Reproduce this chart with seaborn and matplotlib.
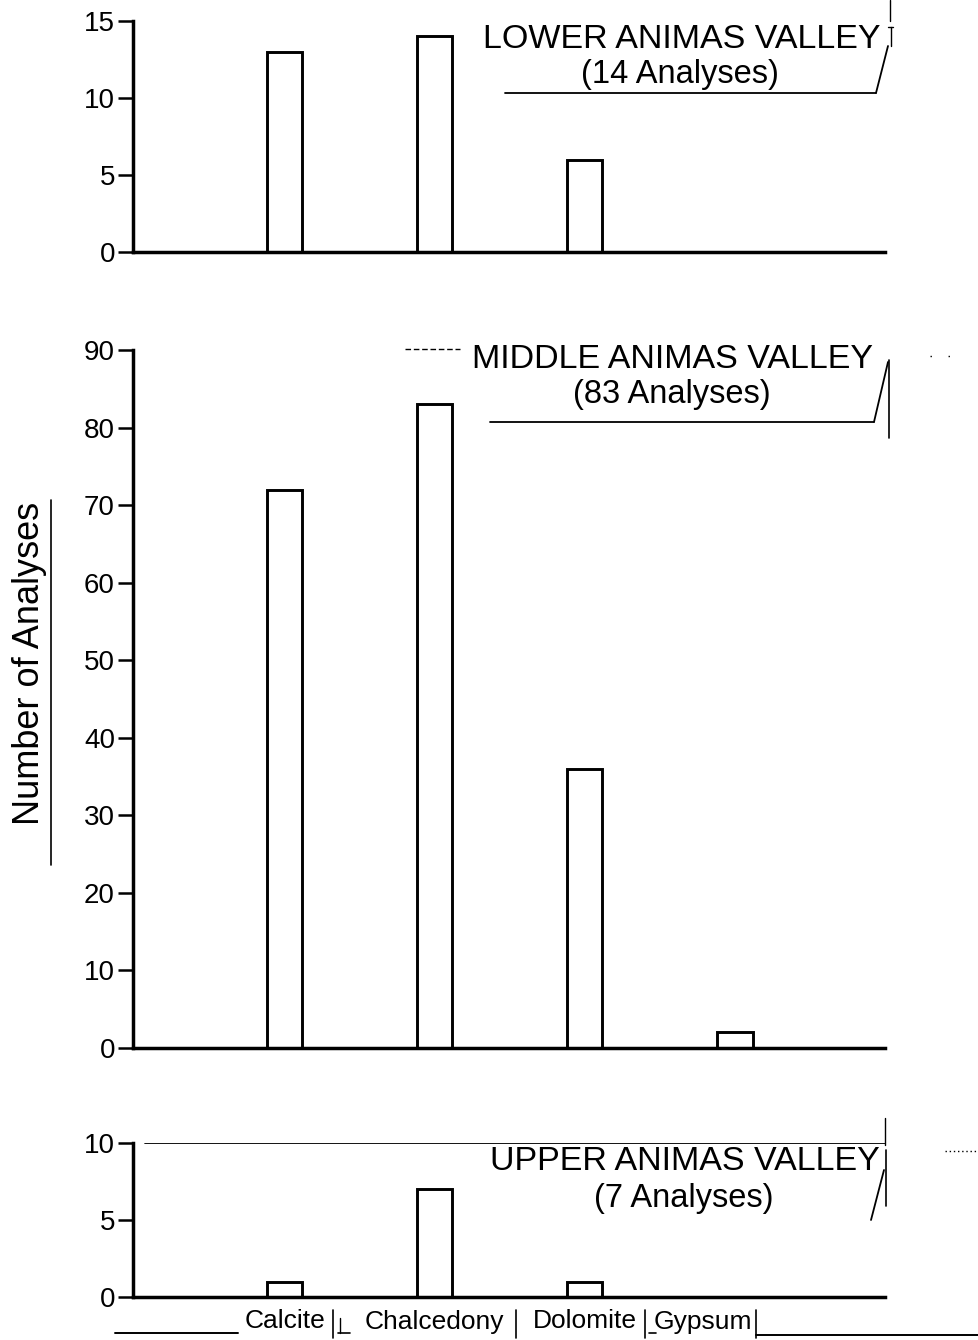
import matplotlib
matplotlib.use("Agg")
import matplotlib.pyplot as plt
import matplotlib.transforms as mtransforms
from matplotlib.lines import Line2D
import numpy as np
import pandas as pd
import seaborn as sns

# ---- data -------------------------------------------------------------
minerals = ["Calcite", "Chalcedony", "Dolomite", "Gypsum"]
lower_counts = [13, 14, 6, 0]
middle_counts = [72, 83, 36, 2]
upper_counts = [1, 7, 1, 0]

panel_names = ["LOWER ANIMAS VALLEY", "MIDDLE ANIMAS VALLEY", "UPPER ANIMAS VALLEY"]
panel_analyses = [14, 83, 7]
panel_yticks = [[0, 5, 10, 15], list(range(0, 91, 10)), [0, 5, 10]]

# ---- style ------------------------------------------------------------
sns.set_style("ticks")
plt.rcParams["font.family"] = ["Liberation Sans", "DejaVu Sans"]
plt.rcParams["text.color"] = "black"
plt.rcParams["xtick.color"] = "black"
plt.rcParams["ytick.color"] = "black"
plt.rcParams["axes.labelcolor"] = "black"

W, H = 979, 1340
fig = plt.figure(figsize=(W / 100, H / 100), dpi=100)


def fx(px):
    return px / W


def fy(py):
    return 1 - py / H


def axes_box(top_px, bottom_px, left_px=133, right_px=885):
    return [fx(left_px), fy(bottom_px), fx(right_px) - fx(left_px), (bottom_px - top_px) / H]


boxes = [axes_box(21, 252), axes_box(350, 1048), axes_box(1143, 1297)]
counts_all = [lower_counts, middle_counts, upper_counts]

axes = []
for i, (box, counts, yt) in enumerate(zip(boxes, counts_all, panel_yticks)):
    ax = fig.add_axes(box)
    df = pd.DataFrame({"mineral": minerals, "count": counts})
    sns.barplot(data=df, x="mineral", y="count", order=minerals, color="white",
                edgecolor="black", linewidth=2.1, width=0.235, ax=ax,
                saturation=1)
    ax.set_xlim(-1.01, 4.0)
    ax.set_ylim(0, yt[-1])
    ax.set_yticks(yt)
    ax.set_yticklabels([str(v) for v in yt], fontsize=20)
    ax.set_xlabel("")
    ax.set_ylabel("")
    for s in ["top", "right"]:
        ax.spines[s].set_visible(False)
    for s in ["left", "bottom"]:
        ax.spines[s].set_linewidth(2.5)
        ax.spines[s].set_color("black")
    ax.tick_params(axis="y", direction="out", length=11, width=1.8, pad=2)
    ax.patch.set_alpha(0)
    if i < 2:
        ax.set_xticks([])
    else:
        ax.set_xticks(range(len(minerals)))
        ax.set_xticklabels(minerals, fontsize=19)
        ax.tick_params(axis="x", length=0, pad=9)
        # the last label sits left of its bar, inside its column
        lbl = ax.get_xticklabels()[-1]
        lbl.set_transform(lbl.get_transform() +
                          mtransforms.ScaledTranslation(-0.32, 0, fig.dpi_scale_trans))
    axes.append(ax)

# line across the top of the upper panel
axes[2].axhline(10, xmin=(145 - 133) / 752, xmax=1.0, color="black", lw=1.3)

# ---- panel titles -----------------------------------------------------
title_pos = [(682, 40, 680, 75), (673, 359, 672, 395), (685, 1162, 684, 1199)]
for name, n, (x1, y1, x2, y2) in zip(panel_names, panel_analyses, title_pos):
    fig.text(fx(x1), fy(y1), name, fontsize=24.5, ha="center", va="center")
    fig.text(fx(x2), fy(y2), f"({n} Analyses)", fontsize=23.5, ha="center", va="center")


def fline(xs, ys, lw=1.3, ls="-"):
    fig.add_artist(Line2D([fx(x) for x in xs], [fy(y) for y in ys],
                          color="black", lw=lw, ls=ls, transform=fig.transFigure))


# label frames
fline([505, 876], [93, 93])
fline([876, 888], [93, 46])
fline([890, 890], [0, 21], lw=1.0)
fline([891, 891], [27, 46], lw=1.0)
fline([888, 893], [27, 27], lw=1.0)

fline([490, 874], [422, 422])
fline([874, 888], [422, 362])
fline([889, 889], [360, 438], lw=1.2)
fline([405, 460], [349, 349], lw=1.0, ls=(0, (4, 2)))
fline([930, 960], [356, 356], lw=1.0, ls=(0, (1, 12)))

fline([885, 885], [1118, 1145], lw=1.0)
fline([871, 884], [1220, 1170])
fline([886, 886], [1150, 1206], lw=1.2)
fline([945, 979], [1151, 1151], lw=1.0, ls=(0, (1, 2)))

# ---- y label ----------------------------------------------------------
fig.text(fx(30), fy(663), "Number of Analyses", rotation=90, fontsize=26,
         ha="center", va="center")
fline([51, 51], [865, 500], lw=1.2)

# ---- category row rules ----------------------------------------------
fline([115, 238], [1333, 1333], lw=1.4)
fline([333, 333], [1310, 1338], lw=1.2)
fline([338, 350], [1333, 1333], lw=1.2)
fline([340, 340], [1318, 1333], lw=1.0)
fline([516, 516], [1310, 1338], lw=1.2)
fline([645, 645], [1310, 1338], lw=1.2)
fline([649, 656], [1333, 1333], lw=1.2)
fline([756, 756], [1310, 1338], lw=1.2)
fline([756, 979], [1335, 1335], lw=1.4)

fig.savefig("out.png", dpi=100, facecolor="white")
